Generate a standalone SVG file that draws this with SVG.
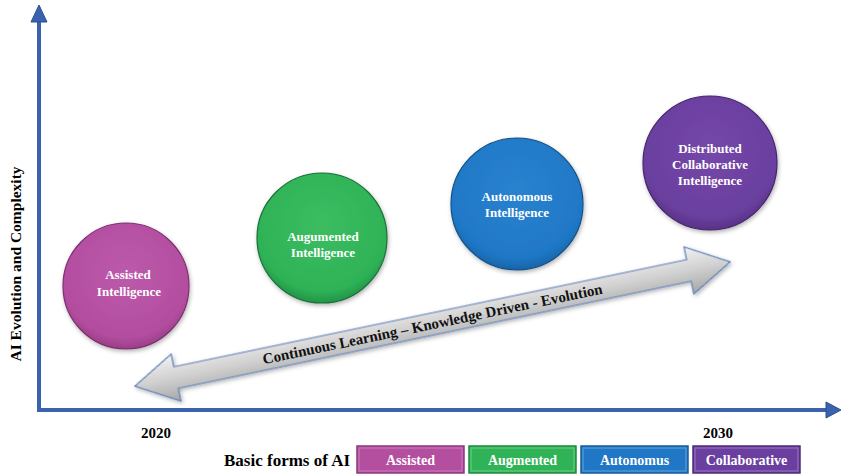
<svg xmlns="http://www.w3.org/2000/svg" width="842" height="475" viewBox="0 0 842 475" font-family="'Liberation Serif', 'Times New Roman', Tinos, 'DejaVu Serif', serif" font-weight="bold">
<defs>
<style>
text{font-family:'Liberation Serif','Times New Roman',Tinos,'DejaVu Serif',serif;font-weight:bold;}
.ct{fill:#fff;font-size:13px;text-anchor:middle;}
.bt{fill:#fff;font-size:14px;text-anchor:middle;}
.ax{stroke:#3a62ad;stroke-width:4;fill:none;}
</style>
<radialGradient id="gp" cx="0.5" cy="0.4" r="0.6"><stop offset="0" stop-color="#bc5aab"/><stop offset="0.85" stop-color="#b34d9f"/><stop offset="1" stop-color="#9a3f88"/></radialGradient>
<radialGradient id="gg" cx="0.5" cy="0.4" r="0.6"><stop offset="0" stop-color="#3cbd62"/><stop offset="0.85" stop-color="#2eb256"/><stop offset="1" stop-color="#239448"/></radialGradient>
<radialGradient id="gb" cx="0.5" cy="0.4" r="0.6"><stop offset="0" stop-color="#2a82cf"/><stop offset="0.85" stop-color="#1f78c6"/><stop offset="1" stop-color="#1864a8"/></radialGradient>
<radialGradient id="gv" cx="0.5" cy="0.4" r="0.6"><stop offset="0" stop-color="#7447a8"/><stop offset="0.85" stop-color="#6a3f9f"/><stop offset="1" stop-color="#573286"/></radialGradient>
<linearGradient id="ga" x1="0" y1="0" x2="0" y2="1"><stop offset="0" stop-color="#f2f2f2"/><stop offset="0.5" stop-color="#d0d0d0"/><stop offset="1" stop-color="#a6a6a6"/></linearGradient>
<filter id="sh" x="-20%" y="-20%" width="140%" height="140%"><feDropShadow dx="1" dy="2" stdDeviation="2" flood-color="#000" flood-opacity="0.3"/></filter>
</defs>
<rect width="842" height="475" fill="#fff"/>

<g id="axes">
<line class="ax" x1="39" y1="410" x2="39" y2="20"/>
<polygon points="39,5 31,22 47,22" fill="#3a62ad" stroke="#2d4f90" stroke-width="1"/>
<line class="ax" x1="37" y1="410" x2="828" y2="410"/>
<polygon points="841,410 826,402 826,418" fill="#3a62ad" stroke="#2d4f90" stroke-width="1"/>
</g>

<text x="0" y="0" font-size="15.5" text-anchor="middle" transform="translate(21,264) rotate(-90)">AI Evolution and Complexity</text>
<text x="156" y="438" font-size="15" text-anchor="middle">2020</text>
<text x="718" y="438" font-size="15" text-anchor="middle">2030</text>

<g id="connectors">
<g id="evolution-arrow" transform="translate(432.5,324) rotate(-11.8)">
<polygon points="-304,0 -262,-24 -262,-11 262,-11 262,-24 304,0 262,24 262,11 -262,11 -262,24" fill="url(#ga)" stroke="#5b7fb8" stroke-width="1.2" filter="url(#sh)"/>
<text x="0" y="5" font-size="15" text-anchor="middle" fill="#111">Continuous Learning – Knowledge Driven - Evolution</text>
</g>
</g>

<g id="assisted">
<circle cx="126" cy="286" r="63" fill="url(#gp)" stroke="#7d2f6d" stroke-width="1.2" filter="url(#sh)"/>
<text class="ct" x="128" y="279">Assisted</text>
<text class="ct" x="129" y="296">Intelligence</text>
</g>
<g id="augmented">
<circle cx="322" cy="238" r="65" fill="url(#gg)" stroke="#1a7038" stroke-width="1.2" filter="url(#sh)"/>
<text class="ct" x="323" y="241">Augumented</text>
<text class="ct" x="323" y="257">Intelligence</text>
</g>
<g id="autonomous">
<circle cx="517" cy="204" r="66" fill="url(#gb)" stroke="#124f88" stroke-width="1.2" filter="url(#sh)"/>
<text class="ct" x="517" y="201">Autonomous</text>
<text class="ct" x="517" y="217">Intelligence</text>
</g>
<g id="distributed">
<circle cx="710" cy="163" r="67" fill="url(#gv)" stroke="#44256b" stroke-width="1.2" filter="url(#sh)"/>
<text class="ct" x="710" y="153">Distributed</text>
<text class="ct" x="710" y="169">Collaborative</text>
<text class="ct" x="710" y="185">Intelligence</text>
</g>

<g id="legend">
<text x="224" y="466" font-size="17">Basic forms of AI</text>
<g id="box-assisted"><rect x="357" y="446" width="107" height="27" fill="#b44fa0" stroke="#8a3a7a" stroke-width="1.5"/><rect x="359" y="448" width="103" height="23" fill="none" stroke="#cf7cbf" stroke-width="1"/><text class="bt" x="410.5" y="465">Assisted</text></g>
<g id="box-augmented"><rect x="469" y="446" width="107" height="27" fill="#2fb356" stroke="#1f8a3f" stroke-width="1.5"/><rect x="471" y="448" width="103" height="23" fill="none" stroke="#6fd08b" stroke-width="1"/><text class="bt" x="522.5" y="465">Augmented</text></g>
<g id="box-autonomus"><rect x="581" y="446" width="107" height="27" fill="#2077c6" stroke="#175c9c" stroke-width="1.5"/><rect x="583" y="448" width="103" height="23" fill="none" stroke="#62a4de" stroke-width="1"/><text class="bt" x="634.5" y="465">Autonomus</text></g>
<g id="box-collaborative"><rect x="693" y="446" width="107" height="27" fill="#6a3f9f" stroke="#4f2c7a" stroke-width="1.5"/><rect x="695" y="448" width="103" height="23" fill="none" stroke="#9a78c4" stroke-width="1"/><text class="bt" x="746.5" y="465">Collaborative</text></g>
</g>
</svg>
